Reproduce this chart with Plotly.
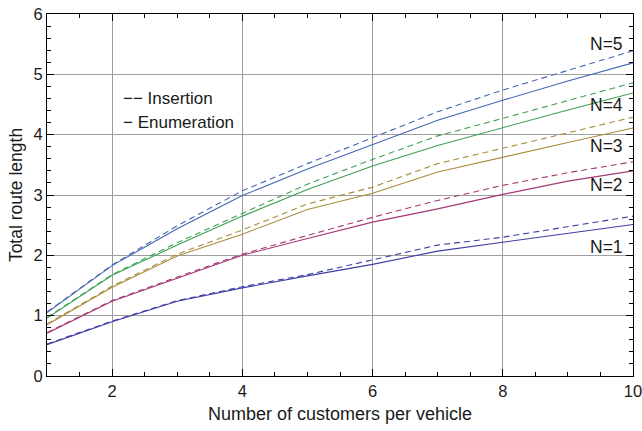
import plotly.graph_objects as go

customers = [1, 2, 3, 4, 5, 6, 7, 8, 9, 10]
series_names = ["N=1", "N=2", "N=3", "N=4", "N=5"]

# Insertion heuristic (dashed)
insertion = {
    "N=1": [0.53, 0.91, 1.25, 1.48, 1.68, 1.92, 2.17, 2.30, 2.47, 2.65],
    "N=2": [0.72, 1.25, 1.64, 2.02, 2.33, 2.63, 2.91, 3.16, 3.37, 3.55],
    "N=3": [0.86, 1.49, 2.02, 2.42, 2.85, 3.13, 3.52, 3.77, 4.03, 4.29],
    "N=4": [0.97, 1.68, 2.21, 2.70, 3.18, 3.59, 3.98, 4.27, 4.56, 4.86],
    "N=5": [1.06, 1.84, 2.49, 3.07, 3.52, 3.95, 4.38, 4.74, 5.07, 5.39],
}
# Enumeration (solid)
enumeration = {
    "N=1": [0.52, 0.90, 1.24, 1.46, 1.66, 1.85, 2.07, 2.22, 2.36, 2.51],
    "N=2": [0.71, 1.24, 1.62, 2.00, 2.28, 2.55, 2.77, 3.01, 3.23, 3.40],
    "N=3": [0.85, 1.47, 1.99, 2.35, 2.76, 3.03, 3.38, 3.63, 3.87, 4.11],
    "N=4": [0.96, 1.67, 2.17, 2.65, 3.09, 3.48, 3.82, 4.12, 4.41, 4.69],
    "N=5": [1.05, 1.83, 2.44, 2.99, 3.43, 3.84, 4.24, 4.57, 4.89, 5.19],
}

colors = {
    "N=1": "rgb(62,62,165)",
    "N=2": "rgb(165,55,115)",
    "N=3": "rgb(168,140,60)",
    "N=4": "rgb(60,160,85)",
    "N=5": "rgb(68,102,178)",
}
label_y = {"N=1": 2.14, "N=2": 3.16, "N=3": 3.81, "N=4": 4.49, "N=5": 5.50}

FONT = "Liberation Sans, Arial, Helvetica, sans-serif"
TXT = "#1a1a1a"

fig = go.Figure()
for name in series_names:
    fig.add_trace(go.Scatter(x=customers, y=insertion[name], mode="lines",
                             line=dict(color=colors[name], width=1.1, dash="6px,4px"),
                             showlegend=False))
    fig.add_trace(go.Scatter(x=customers, y=enumeration[name], mode="lines",
                             line=dict(color=colors[name], width=1.1),
                             showlegend=False))

for name in series_names:
    fig.add_annotation(x=10, y=label_y[name], xref="x", yref="y", text=name,
                       showarrow=False, xanchor="right", yanchor="middle", xshift=-8,
                       font=dict(family=FONT, size=17.5, color=TXT))

fig.add_annotation(x=2.13, y=4.60, xref="x", yref="y", text="−− Insertion",
                   showarrow=False, xanchor="left", yanchor="middle",
                   font=dict(family=FONT, size=17, color=TXT))
fig.add_annotation(x=2.13, y=4.20, xref="x", yref="y", text="− Enumeration",
                   showarrow=False, xanchor="left", yanchor="middle",
                   font=dict(family=FONT, size=17, color=TXT))

axis_common = dict(
    showline=True, linecolor="black", linewidth=1, mirror="ticks",
    ticks="inside", ticklen=7, tickcolor="black", tickwidth=1,
    showgrid=True, gridcolor="#9e9e9e", gridwidth=1, zeroline=False,
    tickfont=dict(family=FONT, size=16.5, color=TXT), automargin=False,
    ticklabeloverflow="allow",
)

fig.update_xaxes(range=[1, 10], tick0=0, dtick=2,
                 minor=dict(dtick=0.5, ticks="inside", ticklen=4, tickcolor="black", showgrid=False),
                 title=dict(text="Number of customers per vehicle",
                            font=dict(family=FONT, size=18, color=TXT), standoff=8),
                 **axis_common)
fig.update_yaxes(range=[0, 6], tick0=0, dtick=1,
                 minor=dict(dtick=0.2, ticks="inside", ticklen=4, tickcolor="black", showgrid=False),
                 title=dict(text="Total route length",
                            font=dict(family=FONT, size=17.5, color=TXT), standoff=6),
                 **axis_common)

fig.update_layout(width=642, height=431,
                  margin=dict(l=47, r=9, t=14, b=55, autoexpand=False),
                  paper_bgcolor="white", plot_bgcolor="white",
                  showlegend=False)

fig.write_html("out.html", config={"displayModeBar": False},
               post_script="document.body.style.margin='0';document.body.style.padding='0';document.body.style.overflow='hidden';")
